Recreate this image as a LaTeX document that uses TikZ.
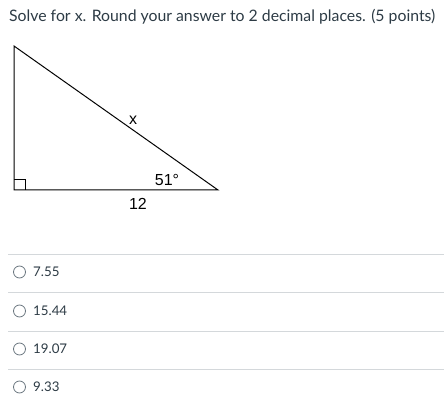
\documentclass[tikz,border=0pt]{standalone}
\usepackage{fontspec}
\setmainfont{Lato}
\newfontfamily\arialf{Liberation Sans}
\definecolor{txt}{HTML}{2D3B45}
\definecolor{sep}{HTML}{D4D8DB}
\definecolor{radio}{HTML}{6B7780}
\begin{document}
\begin{tikzpicture}[x=1pt,y=-1pt,
  title/.style={anchor=base west,inner sep=0,text=txt,font=\fontsize{15.8}{18}\selectfont},
  opt/.style={anchor=west,inner sep=0,text=txt,font=\fontsize{13.3}{15}\selectfont},
  lbl/.style={inner sep=0,font=\arialf\fontsize{16}{18}\selectfont},
  sepline/.style={draw=sep,line width=1pt},
  radiobtn/.style={circle,draw=radio,line width=0.8pt,minimum size=12pt,inner sep=0}]
\useasboundingbox (0,0) rectangle (444,411);
\node[title] (t) at (9,22) {Solve for x. Round your answer to 2 decimal places. (5 points)};
% triangle
\coordinate (A) at (14,46);
\coordinate (B) at (14,190);
\coordinate (C) at (218,190);
\draw[line width=1pt] (A) -- (B) -- (C) -- cycle;
\draw[line width=0.8pt] (14,179) -| (25,190);
\node[lbl] (lx) at (133,120) {x};
\node[lbl] (la) at (167,180) {51°};
\node[lbl] (lb) at (138,204) {12};
% options
\foreach \y in {255,293,331,369} \draw[sepline] (8,\y) -- (444,\y);
\foreach \y/\v/\n in {272/7.55/a,311/15.44/b,349/19.07/c,387/9.33/d}{
  \node[radiobtn] (r\n) at (19.5,\y) {};
  \node[opt] (o\n) at (33,\y) {\v};
}
\end{tikzpicture}
\end{document}
